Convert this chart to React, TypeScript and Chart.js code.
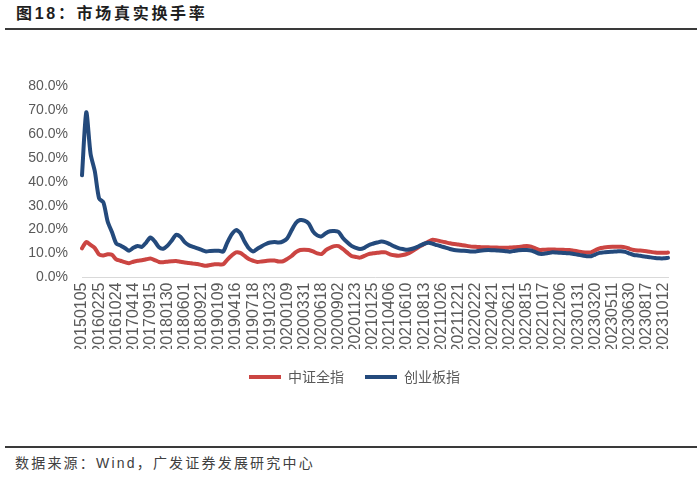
import React, { useEffect, useRef } from "react";
import { Chart, registerables } from "chart.js";

Chart.register(...registerables);

const tickLabels = [
  "20150105", "20160225", "20161024", "20170414", "20170915", "20180130", "20180601",
  "20180921", "20190109", "20190416", "20190718", "20191023", "20200109", "20200331",
  "20200618", "20200902", "20201123", "20210125", "20210406", "20210610", "20210813",
  "20211026", "20211221", "20220222", "20220421", "20220621", "20220815", "20221017",
  "20221206", "20230131", "20230320", "20230511", "20230630", "20230817", "20231012",
];

const pointsPerLabel = 4;

const csiAll = [
  12.2, 14.8, 13.6, 12.3, 9.6, 9.2, 9.7, 9.5, 7.6, 7.0, 6.4, 6.0,
  6.6, 7.0, 7.2, 7.6, 7.9, 7.3, 6.5, 6.4, 6.6, 6.8, 6.9, 6.6,
  6.3, 6.1, 5.8, 5.6, 5.2, 4.9, 5.2, 5.5, 5.5, 5.5, 7.5, 9.2,
  10.5, 10.3, 9.0, 7.7, 7.0, 6.5, 6.7, 6.9, 7.1, 7.1, 6.7, 6.8,
  7.8, 9.0, 10.6, 11.5, 11.6, 11.5, 10.9, 10.1, 9.8, 11.4, 12.4, 13.1,
  13.1, 11.9, 10.4, 9.0, 8.6, 8.3, 9.0, 9.8, 10.1, 10.3, 10.5, 10.5,
  9.7, 9.3, 9.1, 9.4, 9.9, 10.8, 11.9, 13.0, 14.0, 15.0, 15.8, 15.5,
  15.1, 14.7, 14.3, 14.0, 13.8, 13.5, 13.2, 12.9, 12.8, 12.7, 12.6, 12.6,
  12.5, 12.5, 12.4, 12.4, 12.5, 12.6, 12.7, 13.0, 13.2, 12.9, 12.2, 11.5,
  11.6, 11.7, 11.7, 11.6, 11.6, 11.5, 11.5, 11.2, 10.9, 10.6, 10.4, 10.5,
  11.4, 12.2, 12.5, 12.7, 12.8, 12.8, 12.8, 12.6, 12.0, 11.5, 11.3, 11.2,
  11.0, 10.7, 10.4, 10.3, 10.3, 10.4,
];

const chiNext = [
  42.7, 69.0, 51.7, 44.3, 33.0, 31.4, 23.4, 19.0, 14.2, 13.4, 12.3, 11.2,
  12.4, 13.2, 12.8, 14.6, 16.7, 15.1, 12.6, 12.0, 13.3, 15.5, 17.8, 17.0,
  14.8, 13.5, 12.8, 12.2, 11.5, 10.9, 11.1, 11.2, 11.2, 10.8, 14.7, 18.0,
  19.8, 18.6, 15.0, 12.2, 10.9, 12.0, 13.1, 14.0, 14.6, 14.8, 14.6, 15.1,
  16.4, 19.7, 22.8, 24.0, 23.8, 22.6, 19.3, 17.6, 17.2, 18.5, 19.3, 19.4,
  19.0, 16.5, 14.7, 13.2, 12.4, 11.9, 12.4, 13.5, 14.1, 14.6, 15.0, 14.7,
  13.9, 13.0, 12.3, 11.9, 11.6, 11.9, 12.5, 13.3, 14.1, 14.5, 14.1, 13.5,
  13.0, 12.5, 11.9, 11.5, 11.3, 11.2, 11.1, 10.9, 10.9, 11.2, 11.4, 11.5,
  11.4, 11.3, 11.2, 11.0, 10.8, 11.1, 11.4, 11.5, 11.5, 11.3, 10.6, 9.9,
  9.9, 10.2, 10.5, 10.4, 10.3, 10.2, 10.1, 9.8, 9.5, 9.2, 8.9, 8.9,
  9.6, 10.3, 10.5, 10.7, 10.8, 10.9, 11.0, 10.7, 10.0, 9.4, 9.2, 8.9,
  8.7, 8.4, 8.1, 8.0, 8.0, 8.2,
];

const seriesNames = ["中证全指", "创业板指"];
const yTicks = { min: 0, max: 80, step: 10 };

const categories = chiNext.map((_, i) =>
  i % pointsPerLabel === 0 ? tickLabels[i / pointsPerLabel] ?? "" : ""
);

const RED = "#CB4542";
const BLUE = "#244A7C";
const FONT = "'Liberation Sans', Arial, 'Noto Sans CJK SC', sans-serif";

const legendShift = {
  id: "legendShift",
  afterLayout(chart: any) {
    const lg = chart.legend;
    if (lg) {
      lg.left += 9.5;
      lg.right += 9.5;
    }
  },
};

function LineChart() {
  const ref = useRef<HTMLCanvasElement | null>(null);
  useEffect(() => {
    if (!ref.current) return;
    const chart = new Chart(ref.current, {
      type: "line",
      data: {
        labels: categories,
        datasets: [
          {
            label: seriesNames[0],
            data: csiAll,
            borderColor: RED,
            backgroundColor: RED,
            borderWidth: 4,
            borderCapStyle: "round",
            borderJoinStyle: "round",
            pointRadius: 0,
            tension: 0.25,
            order: 1,
          },
          {
            label: seriesNames[1],
            data: chiNext,
            borderColor: BLUE,
            backgroundColor: BLUE,
            borderWidth: 4,
            borderCapStyle: "round",
            borderJoinStyle: "round",
            pointRadius: 0,
            tension: 0.25,
            order: 0,
          },
        ],
      },
      plugins: [legendShift],
      options: {
        responsive: false,
        animation: false,
        layout: { padding: { left: 22, right: 32, top: 46, bottom: 6 } },
        plugins: {
          tooltip: { enabled: false },
          legend: {
            position: "bottom",
            labels: {
              usePointStyle: true,
              pointStyle: "line",
              pointStyleWidth: 32,
              padding: 21,
              color: "#595959",
              font: { size: 14, family: "'Noto Sans CJK SC', sans-serif" },
              sort: (a: any, b: any) => a.datasetIndex - b.datasetIndex,
            },
          },
        },
        scales: {
          x: {
            afterFit: (s: any) => {
              s.height = 71.5;
            },
            grid: { display: false, drawTicks: false },
            border: { display: true, color: "#D9D9D9", width: 1 },
            ticks: {
              autoSkip: false,
              minRotation: 90,
              maxRotation: 90,
              padding: 5,
              color: "#595959",
              font: { size: 16, family: FONT },
            },
          },
          y: {
            min: yTicks.min,
            max: yTicks.max,
            afterFit: (s: any) => {
              s.width = 60;
            },
            grid: { display: false, drawTicks: false },
            border: { display: false },
            ticks: {
              stepSize: yTicks.step,
              padding: 14,
              color: "#595959",
              font: { size: 14, family: FONT },
              callback: (v: any) => Number(v).toFixed(1) + "%",
            },
          },
        },
      },
    });
    return () => chart.destroy();
  }, []);
  return (
    <canvas
      ref={ref}
      width={700}
      height={360}
      style={{ position: "absolute", left: 0, top: 40, width: 700, height: 360 }}
    />
  );
}

export default function App() {
  return (
    <div
      style={{
        position: "absolute",
        left: 0,
        top: 0,
        width: 700,
        height: 477,
        background: "#fff",
        overflow: "hidden",
        fontFamily: FONT,
      }}
    >
      <div
        style={{
          position: "absolute",
          left: 16,
          top: 4,
          fontSize: 16,
          lineHeight: "20px",
          fontWeight: 700,
          letterSpacing: 2.7,
          color: "#1E1E1E",
          whiteSpace: "nowrap",
        }}
      >
        图18：市场真实换手率
      </div>
      <div
        style={{
          position: "absolute",
          left: 5,
          top: 28,
          width: 692,
          height: 2,
          background: "#3A3A3A",
        }}
      />
      <LineChart />
      <div
        style={{
          position: "absolute",
          left: 5,
          top: 446,
          width: 692,
          height: 1.5,
          background: "#3A3A3A",
        }}
      />
      <div
        style={{
          position: "absolute",
          left: 15,
          top: 453,
          fontSize: 14,
          lineHeight: "20px",
          letterSpacing: 2.2,
          color: "#404040",
          whiteSpace: "nowrap",
        }}
      >
        数据来源：Wind，广发证券发展研究中心
      </div>
    </div>
  );
}
